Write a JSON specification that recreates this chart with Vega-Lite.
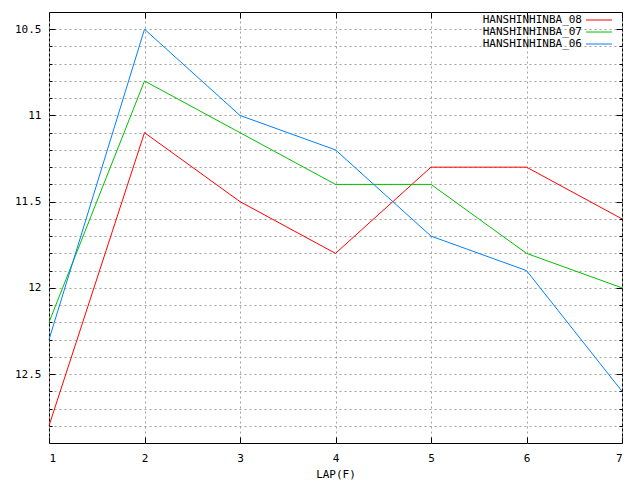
{
  "$schema": "https://vega.github.io/schema/vega-lite/v6.json",
  "width": 573,
  "height": 431,
  "autosize": {"type": "none"},
  "padding": {"left": 49, "top": 12, "right": 18, "bottom": 37},
  "background": "white",
  "config": {
    "view": {"stroke": "black", "strokeWidth": 1},
    "font": "DejaVu Sans Mono",
    "axis": {
      "domainColor": "black",
      "tickColor": "black",
      "labelColor": "black",
      "labelFont": "DejaVu Sans Mono",
      "labelFontSize": 11,
      "titleFont": "DejaVu Sans Mono",
      "titleFontSize": 11,
      "titleFontWeight": "normal",
      "gridColor": "#a0a0a0",
      "gridDash": [2, 3],
      "gridOpacity": 1
    }
  },
  "data": {
    "values": [
      {"lap": 1, "series": "HANSHINHINBA_08", "time": 12.8},
      {"lap": 2, "series": "HANSHINHINBA_08", "time": 11.1},
      {"lap": 3, "series": "HANSHINHINBA_08", "time": 11.5},
      {"lap": 4, "series": "HANSHINHINBA_08", "time": 11.8},
      {"lap": 5, "series": "HANSHINHINBA_08", "time": 11.3},
      {"lap": 6, "series": "HANSHINHINBA_08", "time": 11.3},
      {"lap": 7, "series": "HANSHINHINBA_08", "time": 11.6},
      {"lap": 1, "series": "HANSHINHINBA_07", "time": 12.2},
      {"lap": 2, "series": "HANSHINHINBA_07", "time": 10.8},
      {"lap": 3, "series": "HANSHINHINBA_07", "time": 11.1},
      {"lap": 4, "series": "HANSHINHINBA_07", "time": 11.4},
      {"lap": 5, "series": "HANSHINHINBA_07", "time": 11.4},
      {"lap": 6, "series": "HANSHINHINBA_07", "time": 11.8},
      {"lap": 7, "series": "HANSHINHINBA_07", "time": 12.0},
      {"lap": 1, "series": "HANSHINHINBA_06", "time": 12.3},
      {"lap": 2, "series": "HANSHINHINBA_06", "time": 10.5},
      {"lap": 3, "series": "HANSHINHINBA_06", "time": 11.0},
      {"lap": 4, "series": "HANSHINHINBA_06", "time": 11.2},
      {"lap": 5, "series": "HANSHINHINBA_06", "time": 11.7},
      {"lap": 6, "series": "HANSHINHINBA_06", "time": 11.9},
      {"lap": 7, "series": "HANSHINHINBA_06", "time": 12.6}
    ]
  },
  "layer": [
    {
      "mark": {"type": "line", "strokeWidth": 1, "opacity": 0},
      "encoding": {
        "x": {
          "field": "lap", "type": "quantitative",
          "scale": {"domain": [1, 7], "nice": false, "zero": false},
          "axis": {"orient": "top", "values": [1, 2, 3, 4, 5, 6, 7], "labels": false, "grid": false, "tickSize": -6, "domain": false, "title": null}
        },
        "y": {
          "field": "time", "type": "quantitative",
          "scale": {"domain": [10.4, 12.9], "reverse": true, "nice": false, "zero": false},
          "axis": {
            "orient": "right",
            "values": [10.5, 10.6, 10.7, 10.8, 10.9, 11, 11.1, 11.2, 11.3, 11.4, 11.5, 11.6, 11.7, 11.8, 11.9, 12, 12.1, 12.2, 12.3, 12.4, 12.5, 12.6, 12.7, 12.8],
            "labels": false, "grid": false, "domain": false, "title": null,
            "tickSize": {"condition": {"test": "abs(datum.value*2 - round(datum.value*2)) < 0.01", "value": -6}, "value": -3}
          }
        },
        "detail": {"field": "series"}
      }
    },
    {
      "mark": {"type": "line", "strokeWidth": 1},
      "encoding": {
        "x": {
          "field": "lap", "type": "quantitative",
          "axis": {"values": [1, 2, 3, 4, 5, 6, 7], "format": "d", "grid": true, "tickSize": -6, "labelPadding": 15, "title": "LAP(F)", "titlePadding": 5, "domain": false}
        },
        "y": {
          "field": "time", "type": "quantitative",
          "axis": {
            "values": [10.5, 10.6, 10.7, 10.8, 10.9, 11, 11.1, 11.2, 11.3, 11.4, 11.5, 11.6, 11.7, 11.8, 11.9, 12, 12.1, 12.2, 12.3, 12.4, 12.5, 12.6, 12.7, 12.8],
            "format": "~g",
            "labelExpr": "abs(datum.value*2 - round(datum.value*2)) < 0.01 ? datum.label : ''",
            "grid": true, "domain": false, "title": null, "labelPadding": 14,
            "tickSize": {"condition": {"test": "abs(datum.value*2 - round(datum.value*2)) < 0.01", "value": -6}, "value": -3}
          }
        },
        "color": {
          "field": "series", "type": "nominal",
          "scale": {"domain": ["HANSHINHINBA_08", "HANSHINHINBA_07", "HANSHINHINBA_06"], "range": ["#ff0000", "#00c000", "#0080ff"]},
          "legend": {
            "title": null, "orient": "none", "legendX": 530, "legendY": 1,
            "symbolType": "M-2,0H2", "symbolSize": 169, "symbolStrokeWidth": 1,
            "symbolFillColor": "transparent", "symbolOffset": 13,
            "labelFont": "DejaVu Sans Mono", "labelFontSize": 11, "labelColor": "black",
            "labelAlign": "right", "labelOffset": -24, "rowPadding": 0,
            "padding": 0
          }
        }
      }
    }
  ],
  "resolve": {"axis": {"x": "independent", "y": "independent"}}
}
